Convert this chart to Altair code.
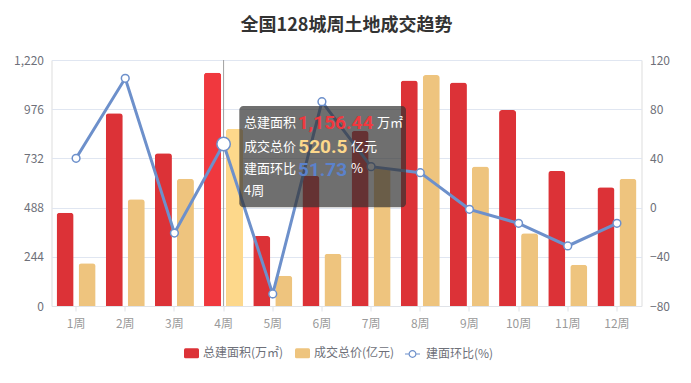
import altair as alt
import pandas as pd

# ---------------- data ----------------
weeks = ["1周", "2周", "3周", "4周", "5周", "6周", "7周", "8周", "9周", "10周", "11周", "12周"]
area = [463, 956, 757, 1156.44, 347, 645, 868, 1118, 1108, 972, 670, 589]          # 总建面积(万㎡)
price = [126, 314, 374, 520.5, 89, 154, 405, 679, 410, 214, 121, 374]              # 成交总价(亿元)
ratio = [40.1, 105.1, -20.7, 51.73, -70.2, 86.1, 33.3, 28.4, -1.4, -12.8, -31.2, -12.8]  # 建面环比(%)

left_ticks = [0, 244, 488, 732, 976, 1220]
right_ticks = [-80, -40, 0, 40, 80, 120]
price_axis_max = 723.4   # hidden axis of 成交总价

S1 = "总建面积(万㎡)"
S2 = "成交总价(亿元)"
S3 = "建面环比(%)"
hover_week = "4周"
tip_labels = ["总建面积", "成交总价", "建面环比"]
tip_values = ["1,156.44", "520.5", "51.73"]
tip_units = ["万㎡", "亿元", "%"]

RED, RED_HI = "#dc3237", "#f0383e"
YEL, YEL_HI = "#eec47e", "#fdd88b"
BLUE = "#6d90cb"
FONT = "Noto Sans CJK SC"
NUMFONT = "Roboto"
LABEL = "#6e7079"

bars = pd.DataFrame({
    "week": weeks * 2,
    "series": [S1] * len(weeks) + [S2] * len(weeks),
    "value": area + price,
})
line_df = pd.DataFrame({"week": weeks, "ratio": ratio, "name": [S3] * len(weeks)})

W, H = 590, 246

x_enc = alt.X(
    "week:N", sort=weeks,
    scale=alt.Scale(paddingInner=0, paddingOuter=0),
    axis=alt.Axis(title=None, labelAngle=0, labelColor="#9a9a9a", labelFontSize=12, labelFont=FONT,
                  labelPadding=7, domainColor="#e0e3e8", tickColor="#e0e3e8", tickSize=5,
                  grid=False, bandPosition=0.5),
)

xoff = alt.XOffset("series:N", sort=[S1, S2],
                   scale=alt.Scale(domain=[S1, S2], paddingInner=0.227, paddingOuter=0.231))

y_left = alt.Y(
    "plot:Q",
    scale=alt.Scale(domain=[0, 1220], nice=False),
    axis=alt.Axis(title=None, values=left_ticks, format=",d", labelColor=LABEL, labelFontSize=12,
                  labelFont=FONT, labelPadding=8, ticks=False, domain=False, grid=True,
                  gridColor="#e0e6f1"),
)

calc = f"datum.series == '{S1}' ? datum.value : datum.value * 1220 / {price_axis_max}"

bar_base = alt.Chart(bars).transform_calculate(plot=calc)

bar_layer = bar_base.mark_bar(cornerRadiusTopLeft=3, cornerRadiusTopRight=3).encode(
    x=x_enc, xOffset=xoff, y=y_left,
    color=alt.Color("series:N", scale=alt.Scale(domain=[S1, S2], range=[RED, YEL]),
                    legend=alt.Legend(title=None, orient="none", direction="horizontal",
                                      legendX=132.5, legendY=285.5,
                                      symbolType="M-0.8,-0.68H0.8Q1,-0.68 1,-0.48V0.48Q1,0.68 0.8,0.68H-0.8Q-1,0.68 -1,0.48V-0.48Q-1,-0.68 -0.8,-0.68Z",
                                      symbolSize=225, symbolStrokeWidth=0, labelFont=FONT,
                                      labelFontSize=12, labelColor=LABEL, labelOffset=4,
                                      columnPadding=11)),
)

hi_layer = bar_base.transform_filter(alt.datum.week == hover_week).mark_bar(
    cornerRadiusTopLeft=3, cornerRadiusTopRight=3).encode(
    x=x_enc, xOffset=xoff, y=alt.Y("plot:Q"),
    fill=alt.Fill("series:N", scale=alt.Scale(domain=[S1, S2], range=[RED_HI, YEL_HI]), legend=None),
)

rule_layer = alt.Chart(line_df).transform_filter(alt.datum.week == hover_week).mark_rule(
    color="#a0a0a0", strokeWidth=1).encode(x=alt.X("week:N", sort=weeks))

bar_group = alt.layer(bar_layer, hi_layer, rule_layer)

y_right = alt.Y(
    "ratio:Q",
    scale=alt.Scale(domain=[-80, 120], nice=False),
    axis=alt.Axis(title=None, orient="right", values=right_ticks, labelColor=LABEL, labelFontSize=12,
                  labelFont=FONT, labelPadding=8, ticks=False, domain=False, grid=False),
)

line_layer = alt.Chart(line_df).mark_line(strokeWidth=3).encode(
    x=alt.X("week:N", sort=weeks), y=y_right,
    color=alt.Color("name:N", scale=alt.Scale(domain=[S3], range=[BLUE]),
                    legend=alt.Legend(title=None, orient="none", legendX=352.5, legendY=285.5,
                                      symbolType="M-1,0H-0.45M0.45,0H1M-0.45,0A0.45,0.45 0 1,0 0.45,0A0.45,0.45 0 1,0 -0.45,0",
                                      symbolSize=225, symbolStrokeWidth=1.2, symbolFillColor="white",
                                      labelFont=FONT, labelFontSize=12, labelColor=LABEL, labelOffset=5)),
)

pt_layer = alt.Chart(line_df).transform_filter(alt.datum.week != hover_week).mark_point(
    filled=True, fill="white", stroke=BLUE, strokeWidth=1.5, size=60, opacity=1).encode(
    x=alt.X("week:N", sort=weeks), y=alt.Y("ratio:Q"))

hover_pt = alt.Chart(line_df).transform_filter(alt.datum.week == hover_week).mark_point(
    filled=True, fill="white", stroke=BLUE, strokeWidth=1.5, size=180, opacity=1).encode(
    x=alt.X("week:N", sort=weeks), y=alt.Y("ratio:Q"))

line_group = alt.layer(line_layer, pt_layer, hover_pt)

# ---------------- tooltip overlay ----------------
one = pd.DataFrame({"k": [0]})
tip_box = alt.Chart(one).mark_rect(color="#323232", opacity=0.7, cornerRadius=4).encode(
    x=alt.value(187.8), x2=alt.value(354.5), y=alt.value(46), y2=alt.value(147.3))

row_y = [62.7, 86.7, 109.0, 130.7]
val_colors = [RED_HI, YEL_HI, "#5b82cc"]
val_x = [246.2, 246.8, 246.5]
unit_x = [325.5, 299.5, 299.5]

tips = [tip_box]
for i in range(3):
    tips.append(alt.Chart(one).mark_text(text=tip_labels[i], font=FONT, fontSize=13, color="white",
                                         align="left", baseline="middle").encode(
        x=alt.value(192.5), y=alt.value(row_y[i])))
    tips.append(alt.Chart(one).mark_text(text=tip_values[i], font=NUMFONT, fontSize=19, fontWeight="bold",
                                         color=val_colors[i], align="left", baseline="middle").encode(
        x=alt.value(val_x[i]), y=alt.value(row_y[i] + 0.5)))
    tips.append(alt.Chart(one).mark_text(text=tip_units[i], font=FONT, fontSize=13, color="white",
                                         align="left", baseline="middle").encode(
        x=alt.value(unit_x[i]), y=alt.value(row_y[i])))
tips.append(alt.Chart(one).mark_text(text=hover_week, font=FONT, fontSize=13, color="white",
                                     align="left", baseline="middle").encode(
    x=alt.value(192.5), y=alt.value(row_y[3])))

chart = alt.layer(bar_group, line_group, *tips).resolve_scale(
    y="independent", color="independent"
).properties(
    width=W, height=H,
    title=alt.TitleParams("全国128城周土地成交趋势", fontSize=18, fontWeight="bold", color="#333333",
                          font=FONT, anchor="middle", offset=19),
    autosize=alt.AutoSizeParams(type="none"),
    padding={"left": 43.5, "top": 52, "right": 41.5, "bottom": 69},
).configure_view(stroke=None).configure(background="white")

chart.save("out.html", embed_options={"renderer": "svg", "actions": False})
